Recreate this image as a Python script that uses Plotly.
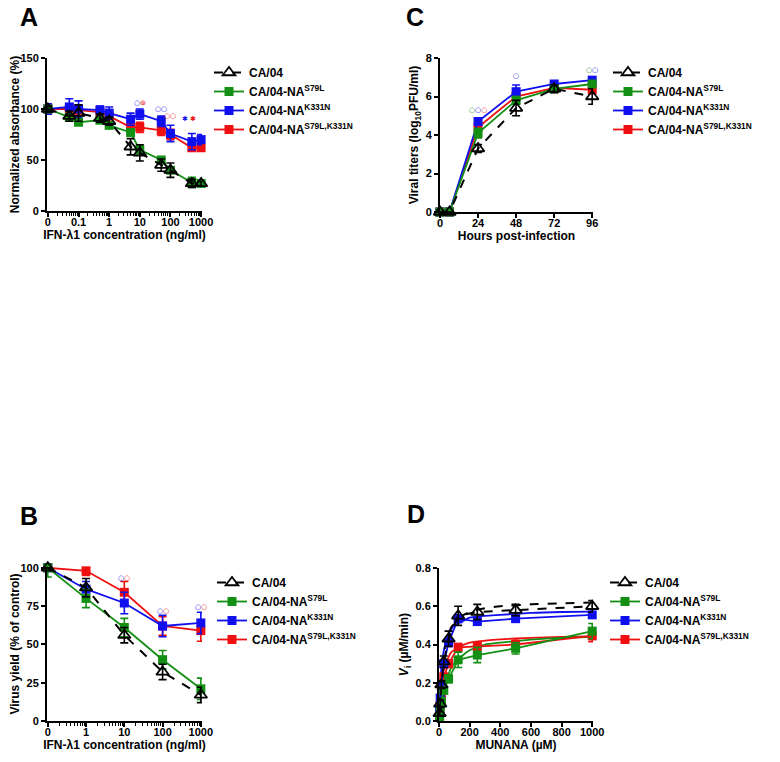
import numpy as np
import plotly.graph_objects as go

# the page body keeps an 8px margin, so the figure is drawn 8px in
OFF = 8
W, H = 780 - OFF, 762 - OFF

# ---------------- data ----------------
# Panel A: normalized absorbance vs IFN-lambda1 (ng/ml); 0 drawn at 0.01
conc_a = [0, 0.05, 0.1, 0.5, 1, 5, 10, 50, 100, 500, 1000]
a_ca04 = [100, 93, 96, 91, 88, 63, 57, 45, 40, 27, 27]
a_ca04_err = [3, 5, 8, 4, 4, 8, 8, 6, 7, 4, 2]
a_s79l = [100, 92, 87, 89, 84, 77, 60, 50, 40, 28, 27]
a_s79l_err = [2, 3, 3, 3, 3, 3, 4, 3, 3, 5, 2]
a_k331n = [100, 102, 100, 99, 96, 90, 95, 88, 76, 68, 70]
a_k331n_err = [5, 8, 8, 4, 6, 6, 5, 5, 8, 8, 5]
a_dbl = [100, 100, 99, 97, 93, 82, 82, 79, 75, 62, 62]
a_dbl_err = [3, 4, 5, 3, 3, 4, 5, 5, 5, 3, 3]

# Panel B: virus yield (% of control); 0 drawn at 0.1
conc_b = [0, 1, 10, 100, 1000]
b_ca04 = [100, 87, 56, 32, 17]
b_ca04_err = [0, 6, 5, 5, 5]
b_s79l = [100, 80, 61, 40, 21]
b_s79l_err = [6, 6, 6, 6, 7]
b_k331n = [100, 86, 77, 62, 64]
b_k331n_err = [0, 5, 7, 7, 7]
b_dbl = [100, 98, 84, 62, 59]
b_dbl_err = [0, 3, 7, 6, 7]

# Panel C: viral titers (log10 PFU/ml) vs hours post-infection
hours = [0, 6, 24, 48, 72, 96]
c_ca04 = [0, 0, 3.3, 5.4, 6.4, 6.0]
c_ca04_err = [0, 0, 0.2, 0.4, 0.2, 0.4]
c_s79l = [0, 0, 4.1, 5.8, 6.4, 6.65]
c_s79l_err = [0, 0, 0.25, 0.2, 0.15, 0.15]
c_k331n = [0, 0, 4.7, 6.25, 6.65, 6.85]
c_k331n_err = [0, 0, 0.15, 0.35, 0.15, 0.1]
c_dbl = [0, 0, 4.4, 6.0, 6.45, 6.35]
c_dbl_err = [0, 0, 0.2, 0.2, 0.15, 0.2]

# Panel D: NA kinetics, Vi (uM/min) vs MUNANA (uM)
munana = [3.9, 7.8, 15.6, 31.25, 62.5, 125, 250, 500, 1000]
d_ca04 = [0.04, 0.09, 0.19, 0.31, 0.43, 0.55, 0.57, 0.58, 0.60]
d_ca04_err = [0.01, 0.02, 0.02, 0.03, 0.04, 0.05, 0.04, 0.03, 0.03]
d_s79l = [0.02, 0.05, 0.10, 0.16, 0.22, 0.32, 0.345, 0.38, 0.47]
d_s79l_err = [0.01, 0.01, 0.02, 0.02, 0.02, 0.04, 0.04, 0.03, 0.04]
d_k331n = [0.06, 0.12, 0.18, 0.30, 0.41, 0.535, 0.52, 0.535, 0.555]
d_k331n_err = [0.01, 0.02, 0.02, 0.02, 0.02, 0.02, 0.01, 0.01, 0.01]
d_dbl = [0.03, 0.08, 0.12, 0.23, 0.30, 0.385, 0.39, 0.40, 0.445]
d_dbl_err = [0.01, 0.01, 0.02, 0.02, 0.02, 0.02, 0.02, 0.03, 0.03]
# fitted curves
fit_x = [0, 10, 20, 40, 60, 80, 100, 150, 200, 300, 400, 600, 800, 1000]
fit_ca04 = [0, 0.18, 0.29, 0.39, 0.45, 0.49, 0.51, 0.55, 0.57, 0.59, 0.60, 0.61, 0.615, 0.62]
fit_s79l = [0, 0.07, 0.12, 0.20, 0.24, 0.28, 0.30, 0.34, 0.37, 0.40, 0.41, 0.425, 0.435, 0.44]
fit_k331n = [0, 0.21, 0.31, 0.40, 0.45, 0.48, 0.50, 0.52, 0.54, 0.55, 0.555, 0.565, 0.57, 0.572]
fit_dbl = [0, 0.14, 0.22, 0.29, 0.33, 0.36, 0.37, 0.395, 0.41, 0.42, 0.427, 0.435, 0.44, 0.443]

names = ["CA/04", "CA/04-NA<sup>S79L</sup>", "CA/04-NA<sup>K331N</sup>",
         "CA/04-NA<sup>S79L,K331N</sup>"]
colors = ["black", "#139013", "#1010ee", "#ee1010"]

FONT = "Liberation Sans, Arial, sans-serif"


# page pixel -> paper fraction
def px_x(p):
    return (p - OFF + 3) / W


def px_y(p):
    return 1 - (p - OFF) / H


def zero_at(xs, pos):
    return [pos if v == 0 else v for v in xs]


fig = go.Figure()


def add_series(x, y, err, idx, xa, ya, leg):
    if idx == 0:
        marker = dict(symbol="triangle-up-open", size=11, color="black",
                      line=dict(width=1.8, color="black"))
        line = dict(color="black", width=2, dash="dash")
    else:
        marker = dict(symbol="square", size=9, color=colors[idx])
        line = dict(color=colors[idx], width=1.8)
    fig.add_trace(go.Scatter(
        x=x, y=y, mode="lines+markers", name=names[idx],
        marker=marker, line=line,
        error_y=dict(type="data", array=err, color=colors[idx],
                     thickness=1.6, width=4),
        xaxis=xa, yaxis=ya, legend=leg, legendrank=idx + 1,
        cliponaxis=False,
    ))


order = [3, 2, 1, 0]  # draw red, blue, green, then black on top

pa = zero_at(conc_a, 0.01)
pb = zero_at(conc_b, 0.1)
A = [(a_ca04, a_ca04_err), (a_s79l, a_s79l_err), (a_k331n, a_k331n_err), (a_dbl, a_dbl_err)]
B = [(b_ca04, b_ca04_err), (b_s79l, b_s79l_err), (b_k331n, b_k331n_err), (b_dbl, b_dbl_err)]
C = [(c_ca04, c_ca04_err), (c_s79l, c_s79l_err), (c_k331n, c_k331n_err), (c_dbl, c_dbl_err)]
D = [(d_ca04, d_ca04_err), (d_s79l, d_s79l_err), (d_k331n, d_k331n_err), (d_dbl, d_dbl_err)]
fits = [fit_ca04, fit_s79l, fit_k331n, fit_dbl]

for i in order:
    add_series(pa, A[i][0], A[i][1], i, "x", "y", "legend")
    add_series(pb, B[i][0], B[i][1], i, "x2", "y2", "legend2")
    add_series(hours, C[i][0], C[i][1], i, "x3", "y3", "legend3")

# panel D: smooth fitted curves (no legend) + points (legend)
for i in order:
    fig.add_trace(go.Scatter(
        x=fit_x, y=fits[i], mode="lines",
        line=dict(color=colors[i], width=2 if i == 0 else 1.8,
                  dash="dash" if i == 0 else "solid",
                  shape="spline", smoothing=0.6),
        showlegend=False, xaxis="x4", yaxis="y4", hoverinfo="skip"))
for i in order:
    add_series(munana, D[i][0], D[i][1], i, "x4", "y4", "legend4")

# ---------------- axes ----------------
tick_font = dict(family=FONT, size=11, color="black", weight="bold")
title_font = dict(family=FONT, size=12, color="black", weight="bold")
common = dict(showline=True, linecolor="black", linewidth=2, ticks="outside",
              ticklen=4, tickwidth=1.5, tickcolor="black", showgrid=False,
              zeroline=False, tickfont=tick_font, title_font=title_font,
              automargin=False)
xcommon = dict(common, ticklabelstandoff=-4)


def minor_log(lo, hi):
    vals = [m * 10.0 ** e for e in range(lo, hi) for m in range(2, 10)]
    return dict(ticks="outside", ticklen=2.5, tickwidth=1, tickcolor="black",
                tickmode="array", tickvals=vals, showgrid=False)


fig.update_layout(
    xaxis=dict(xcommon, domain=[px_x(44), px_x(199)], type="log",
               range=[-2.03, 3.03], anchor="y",
               tickvals=[0.01, 0.1, 1, 10, 100, 1000],
               ticktext=["0", "0.1", "1", "10", "100", "1000"],
               minor=minor_log(-2, 3),
               title=dict(text="IFN-λ1 concentration (ng/ml)", standoff=0)),
    yaxis=dict(common, domain=[px_y(211), px_y(58)], range=[0, 150],
               tickvals=[0, 50, 100, 150], anchor="x",
               title=dict(text="Normalized absorbance (%)", standoff=0)),
    xaxis2=dict(xcommon, domain=[px_x(44), px_x(199)], type="log",
                range=[-1.02, 3.03], anchor="y2",
                tickvals=[0.1, 1, 10, 100, 1000],
                ticktext=["0", "1", "10", "100", "1000"],
                minor=minor_log(-1, 3),
                title=dict(text="IFN-λ1 concentration (ng/ml)", standoff=0)),
    yaxis2=dict(common, domain=[px_y(721), px_y(567)], range=[0, 100.5],
                tickvals=[0, 25, 50, 75, 100], anchor="x2",
                title=dict(text="Virus yield (% of control)", standoff=0)),
    xaxis3=dict(xcommon, domain=[px_x(437), px_x(590)], range=[0, 96.5],
                tickvals=[0, 24, 48, 72, 96], anchor="y3",
                title=dict(text="Hours post-infection", standoff=0)),
    yaxis3=dict(common, domain=[px_y(212), px_y(58)], range=[0, 8],
                tickvals=[0, 2, 4, 6, 8], anchor="x3",
                title=dict(text="Viral titers (log<sub>10</sub>PFU/ml)", standoff=4)),
    xaxis4=dict(xcommon, domain=[px_x(436), px_x(590)], range=[0, 1005],
                tickvals=[0, 200, 400, 600, 800, 1000], anchor="y4",
                title=dict(text="MUNANA (µM)", standoff=0)),
    yaxis4=dict(common, domain=[px_y(721), px_y(568)], range=[0, 0.8],
                tickvals=[0, 0.2, 0.4, 0.6, 0.8], tickformat=".1f", anchor="x4",
                title=dict(text="<i>V</i><sub>i</sub> (µM/min)", standoff=4)),
)

# ---------------- legends ----------------
leg_font = dict(family=FONT, size=12, color="black", weight="bold")


def legend_at(xp, yp):
    return dict(x=px_x(xp), y=px_y(yp), xanchor="left", yanchor="top",
                font=leg_font, bgcolor="rgba(0,0,0,0)", itemwidth=30,
                tracegroupgap=0)


fig.update_layout(
    legend=legend_at(206, 58),
    legend2=legend_at(209, 568),
    legend3=legend_at(605, 58),
    legend4=legend_at(602, 568),
)

# ---------------- significance marks ----------------
def mark(xa, ya, x, y, parts):
    txt = "".join(f"<span style='color:{c}'>{s}</span>" for s, c in parts)
    fig.add_annotation(x=x, y=y, xref=xa, yref=ya, text=txt, showarrow=False,
                       font=dict(family="DejaVu Sans", size=7),
                       xanchor="center", yanchor="middle")


blue, red, green = colors[2], colors[3], colors[1]
lg = np.log10
mark("x", "y", lg(10), 106, [("○", blue), ("⊛", red)])
mark("x", "y", lg(50), 100, [("○○", blue)])
mark("x", "y", lg(100), 93, [("○○", red)])
mark("x", "y", lg(400), 90, [("✱ ", blue), ("✱", red)])
mark("x", "y", lg(1150), 90, [("⊛", blue), ("⊛", red)])

mark("x2", "y2", lg(10), 93.5, [("○", blue), ("○", red)])
mark("x2", "y2", lg(100), 71.5, [("○", blue), ("○", red)])
mark("x2", "y2", lg(1000), 74.5, [("○", blue), ("○", red)])

mark("x3", "y3", 24, 5.3, [("○", green), ("○", blue), ("○", red)])
mark("x3", "y3", 48, 7.05, [("○", blue)])
mark("x3", "y3", 96, 7.4, [("○", green), ("○", blue)])

# panel letters
for letter, xp, yp in [("A", 26, 17), ("B", 26, 516), ("C", 412, 17), ("D", 413, 514)]:
    fig.add_annotation(x=px_x(xp), y=px_y(yp), xref="paper", yref="paper",
                       text=letter, showarrow=False, xanchor="center",
                       yanchor="middle",
                       font=dict(family=FONT, size=25, color="black", weight="bold"))

fig.update_layout(
    width=W, height=H,
    margin=dict(l=0, r=0, t=0, b=0),
    paper_bgcolor="white", plot_bgcolor="white",
    font=dict(family=FONT, color="black"),
)

fig.write_html("out.html")
